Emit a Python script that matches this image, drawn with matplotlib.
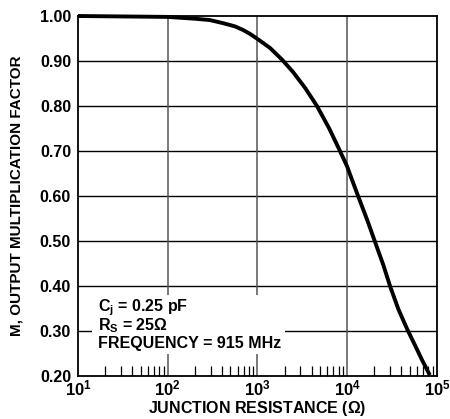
import matplotlib
matplotlib.use("Agg")
import matplotlib.pyplot as plt
from matplotlib.patches import Rectangle
from matplotlib.ticker import LogLocator, NullFormatter

plt.rcParams['font.family'] = ['Liberation Sans', 'DejaVu Sans']
plt.rcParams['font.weight'] = 'bold'
plt.rcParams['mathtext.fontset'] = 'custom'
plt.rcParams['mathtext.rm'] = 'Liberation Sans:bold'
plt.rcParams['mathtext.it'] = 'Liberation Sans:bold'
plt.rcParams['mathtext.bf'] = 'Liberation Sans:bold'

# junction resistance (ohm) vs output multiplication factor
resistance = [10, 32, 100, 200, 295, 415, 560, 690, 830, 1000, 1380, 1900,
              2500, 3400, 4600, 6300, 8300, 10000, 11500, 13200, 16600, 20400,
              25100, 30200, 37200, 46800, 57000, 68000, 83200]
mult_factor = [1.000, 0.999, 0.998, 0.994, 0.991, 0.984, 0.977, 0.969, 0.960,
               0.949, 0.929, 0.902, 0.875, 0.840, 0.800, 0.750, 0.700, 0.665,
               0.632, 0.600, 0.548, 0.498, 0.448, 0.398, 0.348, 0.303, 0.268,
               0.236, 0.202]

y_ticks = [0.20, 0.30, 0.40, 0.50, 0.60, 0.70, 0.80, 0.90, 1.00]
x_ticks = [1e1, 1e2, 1e3, 1e4, 1e5]
x_labels = [r'$10^{1}$', r'$10^{2}$', r'$10^{3}$', r'$10^{4}$', r'$10^{5}$']
note_lines = [r'C$_{\rm j}$ = 0.25 pF', r'R$_{\rm S}$ = 25$\Omega$',
              'FREQUENCY = 915 MHz']

fig = plt.figure(figsize=(4.5, 4.19), dpi=100)
ax = fig.add_axes([0.1733, 0.1026, 0.7978, 0.8592])

ax.set_xscale('log')
ax.set_xlim(1e1, 1e5)
ax.set_ylim(0.20, 1.00)

# grid
for y in y_ticks[1:-1]:
    ax.axhline(y, color='black', lw=1.0, zorder=1)
for x in x_ticks[1:-1]:
    ax.axvline(x, color='#555555', lw=1.1, zorder=1)

ax.plot(resistance, mult_factor, color='black', lw=2.8, zorder=4,
        solid_capstyle='butt', solid_joinstyle='round', clip_on=False)

ax.set_yticks(y_ticks)
ax.set_yticklabels(['%.2f' % v for v in y_ticks], fontsize=11.5, fontweight='bold')
ax.set_xticks(x_ticks)
ax.set_xticklabels(x_labels, fontsize=12)
ax.xaxis.set_minor_locator(LogLocator(base=10, subs=range(2, 10)))
ax.xaxis.set_minor_formatter(NullFormatter())
ax.tick_params(axis='both', which='major', length=0, pad=5)
ax.tick_params(axis='x', which='major', pad=2)
ax.tick_params(axis='x', which='minor', direction='in', length=7, width=0.9,
               color='black')
ax.tick_params(axis='y', which='minor', length=0)

for s in ax.spines.values():
    s.set_linewidth(1.3)
    s.set_color('black')

# label box over the grid
ax.add_patch(Rectangle((0.039, 0.061), 0.538, 0.164, transform=ax.transAxes,
                       facecolor='white', edgecolor='none', zorder=2))
for i, line in enumerate(note_lines):
    ax.text(0.055, 0.189 - i * 0.05, line, transform=ax.transAxes,
            fontsize=11.5, fontweight='bold', va='center', ha='left', zorder=3)

ax.set_xlabel(r'JUNCTION RESISTANCE ($\Omega$)', fontsize=11.5,
              fontweight='bold', labelpad=0)
ax.set_ylabel('M, OUTPUT MULTIPLICATION FACTOR', fontsize=11,
              fontweight='bold', labelpad=12)

fig.savefig('out.png', dpi=100)
